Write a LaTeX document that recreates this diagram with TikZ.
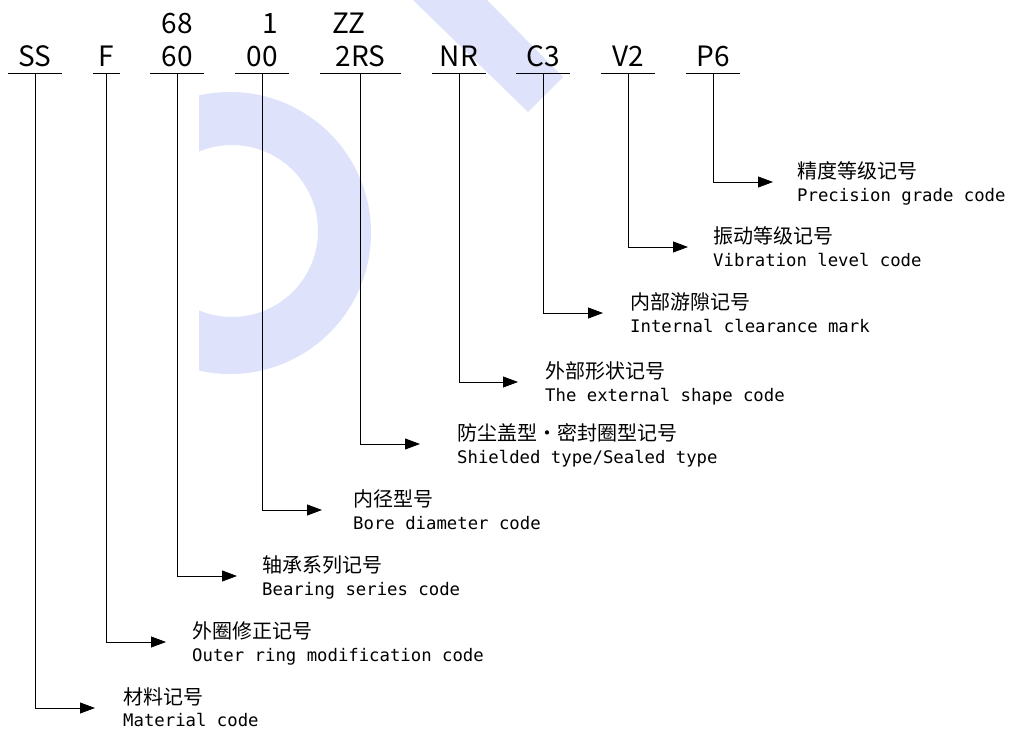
\documentclass[tikz,border=0pt]{standalone}
\usepackage{fontspec}
\newfontfamily\cnfont{Noto Sans CJK SC}
\newfontfamily\enfont{DejaVu Sans Mono}
\usetikzlibrary{arrows.meta}
\definecolor{markblue}{RGB}{222,226,250}
\tikzset{
  codebox/.style={font=\cnfont\fontsize{28}{28}\selectfont, anchor=base,
    text depth=0pt, inner ysep=7pt, inner xsep=0pt, minimum width=#1},
  codebox/.default=54pt,
  altcode/.style={font=\cnfont\fontsize{28}{28}\selectfont, anchor=base, inner sep=0pt},
  rule/.style={line width=0.8pt},
  leader/.style={line width=0.8pt, -{Triangle[length=15pt,width=11pt]}},
  cnlabel/.style={font=\cnfont\fontsize{20}{20}\selectfont, anchor=base west, inner sep=0pt},
  enlabel/.style={font=\enfont\fontsize{17.3}{17.3}\selectfont, anchor=base west, inner sep=0pt},
}
\begin{document}
\begin{tikzpicture}[x=1pt,y=-1pt]
\useasboundingbox (0,0) rectangle (1010,731);
% watermark
\begin{scope}
\clip (199,0) rectangle (420,400);
\fill[markblue,even odd rule] (230,233) circle (141pt) (232,231) circle (86pt);
\end{scope}
\fill[markblue] (413,0) -- (487,0) -- (563,77) -- (528,112) -- cycle;

% code parts
\node[codebox] (ss) at (35,66) {SS};
\node[codebox=27pt] (f) at (106.5,66) {F};
\node[codebox] (bs) at (177,66) {60};
\node[codebox] (bore) at (262,66) {00};
\node[codebox=81pt] (seal) at (360.5,66) {2RS};
\node[codebox] (nr) at (459,66) {NR};
\node[codebox] (cl) at (543,66) {C3};
\node[codebox] (vib) at (628,66) {V2};
\node[codebox] (pg) at (713,66) {P6};
\node[altcode] (bsAlt) at (177,33) {68};
\node[altcode] (boreAlt) at (270,33) {1};
\node[altcode,anchor=base west] (sealAlt) at (332,33) {ZZ};

\foreach \n in {ss,f,bs,bore,seal,nr,cl,vib,pg}
  \draw[rule] (\n.south west) -- (\n.south east);

% arrow ends
\coordinate (ssEnd) at (95,708);
\coordinate (fEnd) at (166,642);
\coordinate (bsEnd) at (237,576);
\coordinate (boreEnd) at (322,510);
\coordinate (sealEnd) at (420,444);
\coordinate (nrEnd) at (518,382);
\coordinate (clEnd) at (603,313);
\coordinate (vibEnd) at (688,247);
\coordinate (pgEnd) at (773,182);

\draw[leader] (ss.south) |- (ssEnd);
\draw[leader] (f.south) |- (fEnd);
\draw[leader] (bs.south) |- (bsEnd);
\draw[leader] (bore.south) |- (boreEnd);
\draw[leader] (seal.south) |- (sealEnd);
\draw[leader] (nr.south) |- (nrEnd);
\draw[leader] (cl.south) |- (clEnd);
\draw[leader] (vib.south) |- (vibEnd);
\draw[leader] (pg.south) |- (pgEnd);

% labels
\node[cnlabel] (ssCn) at (123,704) {材料记号};
\node[enlabel] (ssEn) at (123,726) {Material code};
\node[cnlabel] (fCn) at (192,638) {外圈修正记号};
\node[enlabel] (fEn) at (192,661) {Outer ring modification code};
\node[cnlabel] (bsCn) at (262,572) {轴承系列记号};
\node[enlabel] (bsEn) at (262,595) {Bearing series code};
\node[cnlabel] (boreCn) at (353,506) {内径型号};
\node[enlabel] (boreEn) at (353,529) {Bore diameter code};
\node[cnlabel] (sealCn) at (457,440) {防尘盖型•密封圈型记号};
\node[enlabel] (sealEn) at (457,463) {Shielded type/Sealed type};
\node[cnlabel] (nrCn) at (545,378) {外部形状记号};
\node[enlabel] (nrEn) at (545,401) {The external shape code};
\node[cnlabel] (clCn) at (630,309) {内部游隙记号};
\node[enlabel] (clEn) at (630,332) {Internal clearance mark};
\node[cnlabel] (vibCn) at (713,243) {振动等级记号};
\node[enlabel] (vibEn) at (713,266) {Vibration level code};
\node[cnlabel] (pgCn) at (797,178) {精度等级记号};
\node[enlabel] (pgEn) at (797,201) {Precision grade code};
\end{tikzpicture}
\end{document}
